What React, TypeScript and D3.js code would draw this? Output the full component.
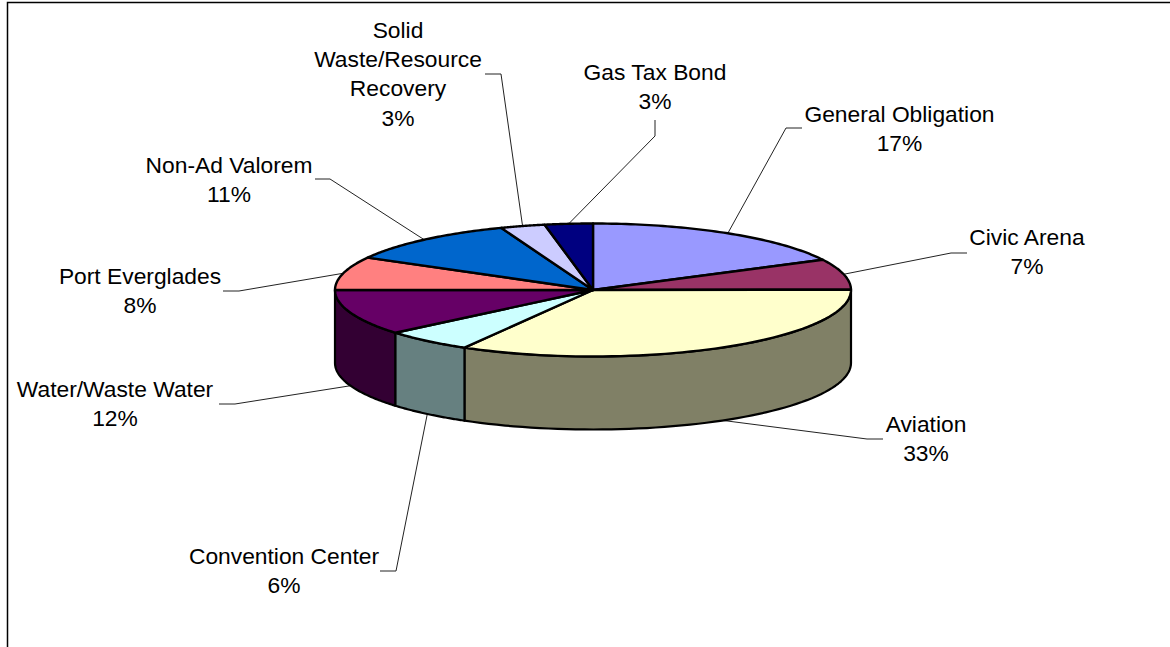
import * as d3 from "d3";

const categories = [
  "General Obligation",
  "Civic Arena",
  "Aviation",
  "Convention Center",
  "Water/Waste Water",
  "Port Everglades",
  "Non-Ad Valorem",
  "Solid Waste/Resource Recovery",
  "Gas Tax Bond",
];
// slice sizes as they are drawn in the picture
const values = [17.5, 7.4, 33.4, 5.6, 11.1, 8.1, 11.1, 2.8, 3.0];
const percentLabels = ["17%", "7%", "33%", "6%", "12%", "8%", "11%", "3%", "3%"];
const topColors = ["#9999FF", "#993366", "#FFFFCC", "#CCFFFF", "#660066", "#FF8080", "#0066CC", "#CCCCFF", "#000080"];
const sideColors = ["#666699", "#662244", "#808066", "#668080", "#330033", "#804040", "#003366", "#666680", "#000040"];

const W = 1170;
const H = 647;
const cx = 593;
const cy = 290;
const rx = 258;
const ry = 66.5;
const depth = 73;
const lineGap = 29.3;

// label placement: centre x, first baseline, wrapped lines, leader end and elbow
const labelLayout = [
  { x: 899.5, y: 121.7, lines: ["General Obligation"], end: [802, 128], elbow: [786, 128] },
  { x: 1027, y: 244.7, lines: ["Civic Arena"], end: [967, 253], elbow: [951, 253] },
  { x: 926, y: 431.7, lines: ["Aviation"], end: [883, 439], elbow: [867, 439] },
  { x: 284, y: 563.7, lines: ["Convention Center"], end: [380, 571], elbow: [396, 571] },
  { x: 115, y: 396.7, lines: ["Water/Waste Water"], end: [219, 404], elbow: [235, 404] },
  { x: 140, y: 283.7, lines: ["Port Everglades"], end: [223, 291], elbow: [239, 291] },
  { x: 229, y: 172.7, lines: ["Non-Ad Valorem"], end: [315, 179], elbow: [330, 179] },
  { x: 398, y: 37.7, lines: ["Solid", "Waste/Resource", "Recovery"], end: [485, 74], elbow: [501, 74] },
  { x: 655, y: 79.7, lines: ["Gas Tax Bond"], end: [655, 120], elbow: [655, 136] },
];

const pie = d3.pie<number>().sort(null).value((d) => d);
const arcs = pie(values);
const line = d3.line();

const onRim = (a: number, dy = 0): [number, number] => [
  cx + rx * Math.sin(a),
  cy - ry * Math.cos(a) + dy,
];

const rimPoints = (a0: number, a1: number, dy = 0) =>
  d3.range(0, 61).map((i) => onRim(a0 + ((a1 - a0) * i) / 60, dy));

export default function App() {
  const half = Math.PI / 2;
  const walls = arcs
    .map((d, i) => ({
      i,
      a0: Math.max(d.startAngle, half),
      a1: Math.min(d.endAngle, 3 * half),
    }))
    .filter((d) => d.a1 > d.a0);

  return (
    <svg
      width={W}
      height={H}
      viewBox={`0 0 ${W} ${H}`}
      style={{ position: "fixed", left: 0, top: 0, background: "#fff" }}
      fontFamily="'Liberation Sans', Arial, sans-serif"
    >
      <path d={`M7.5,${H}V2.5H${W}`} fill="none" stroke="#000" strokeWidth={1.5} />

      {/* Leader lines */}
      {arcs.map((d, i) => {
        const mid = (d.startAngle + d.endAngle) / 2;
        const front = mid > half && mid < 3 * half;
        const l = labelLayout[i];
        const pts = [l.end, l.elbow, onRim(mid, front ? depth : 0)] as [number, number][];
        return <path key={i} d={line(pts)!} fill="none" stroke="#222" strokeWidth={1} />;
      })}

      {/* Outer wall */}
      {walls.map((d) => (
        <path
          key={d.i}
          d={line([...rimPoints(d.a0, d.a1), ...rimPoints(d.a1, d.a0, depth)])! + "Z"}
          fill={sideColors[d.i]}
          stroke="#000"
          strokeWidth={2.2}
          strokeLinejoin="round"
        />
      ))}

      {/* Top face */}
      {arcs.map((d, i) => (
        <path
          key={i}
          d={line([[cx, cy], ...rimPoints(d.startAngle, d.endAngle)])! + "Z"}
          fill={topColors[i]}
          stroke="#000"
          strokeWidth={2.4}
          strokeLinejoin="round"
        />
      ))}

      {/* Labels */}
      {categories.map((c, i) => {
        const l = labelLayout[i];
        return (
          <text key={c} textAnchor="middle" fontSize={22.8} fill="#000">
            {[...l.lines, percentLabels[i]].map((t, j) => (
              <tspan key={j} x={l.x} y={l.y + j * lineGap}>
                {t}
              </tspan>
            ))}
          </text>
        );
      })}
    </svg>
  );
}
